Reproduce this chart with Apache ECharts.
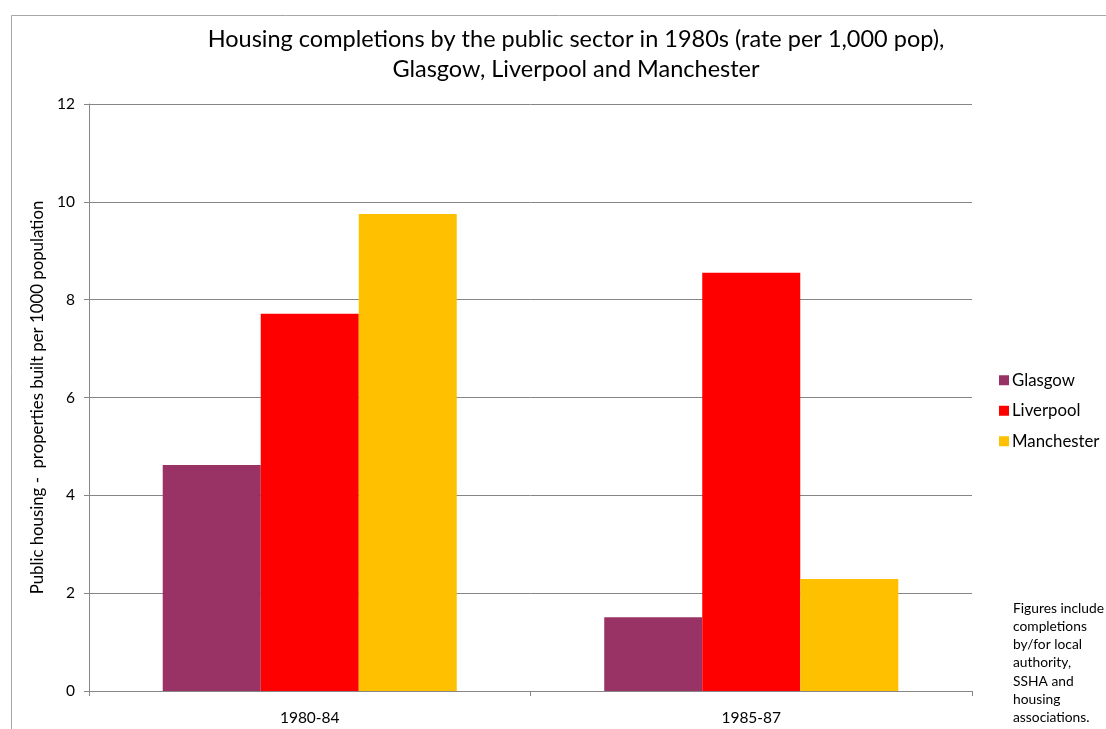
<!DOCTYPE html>
<html><head><meta charset="utf-8">
<script src="https://cdn.jsdelivr.net/npm/echarts@6/dist/echarts.min.js"></script>
<style>html,body{margin:0;padding:0;background:#fff}#c{width:1106px;height:729px}</style>
</head><body><div id="c"></div>
<script>
const categories = ['1980-84', '1985-87'];
const glasgow = [4.62, 1.51];
const liverpool = [7.71, 8.55];
const manchester = [9.75, 2.29];
const seriesNames = ['Glasgow', 'Liverpool', 'Manchester'];
const colors = ['#993366', '#FF0000', '#FFC000'];
const FONT = 'Lato';
const chart = echarts.init(document.getElementById('c'));
chart.setOption({
  animation: false,
  backgroundColor: '#fff',
  title: {
    text: 'Housing completions by the public sector in 1980s (rate per 1,000 pop),\nGlasgow, Liverpool and Manchester',
    left: 571, top: 19, textAlign: 'center',
    textStyle: { fontFamily: FONT, fontSize: 23.5, fontWeight: 'normal', color: '#000', lineHeight: 30 }
  },
  legend: {
    orient: 'vertical', left: 994, top: 366, itemWidth: 10, itemHeight: 10, itemGap: 12,
    icon: 'rect',
    textStyle: { fontFamily: FONT, fontSize: 16.8, lineHeight: 18.5, color: '#000', padding: [0, 0, 0, -2] },
    data: seriesNames
  },
  grid: { left: 89, right: 134, top: 104, bottom: 38 },
  xAxis: {
    type: 'category', data: categories,
    axisLine: { lineStyle: { color: '#868686' } },
    axisTick: { show: true, length: 5, lineStyle: { color: '#868686' } },
    axisLabel: { fontFamily: FONT, fontSize: 15.5, color: '#000', margin: 19 }
  },
  yAxis: {
    type: 'value', min: 0, max: 12, interval: 2,
    name: 'Public housing -  properties built per 1000 population',
    nameLocation: 'middle', nameGap: 38,
    nameTextStyle: { fontFamily: FONT, fontSize: 16.8, color: '#000' },
    axisLine: { show: true, lineStyle: { color: '#868686' } },
    axisTick: { show: true, length: 5, lineStyle: { color: '#868686' } },
    splitLine: { lineStyle: { color: '#868686' } },
    axisLabel: { fontFamily: FONT, fontSize: 15.5, color: '#000', margin: 14 }
  },
  series: [
    { name: seriesNames[0], type: 'bar', data: glasgow, itemStyle: { color: colors[0] }, barGap: '0%', barCategoryGap: '33.4%' },
    { name: seriesNames[1], type: 'bar', data: liverpool, itemStyle: { color: colors[1] }, barGap: '0%', barCategoryGap: '33.4%' },
    { name: seriesNames[2], type: 'bar', data: manchester, itemStyle: { color: colors[2] }, barGap: '0%', barCategoryGap: '33.4%' }
  ],
  graphic: [
    { type: 'rect', left: 9, top: 13, shape: { width: 1300, height: 900 }, style: { fill: 'none', stroke: '#a6a6a6', lineWidth: 1 }, silent: true },
    { type: 'text', left: 1013, top: 599, style: {
      text: 'Figures include\ncompletions\nby/for local\nauthority,\nSSHA and\nhousing\nassociations.',
      fontFamily: FONT, fontSize: 13.8, lineHeight: 18.3, fill: '#000' } }
  ]
});
</script></body></html>
